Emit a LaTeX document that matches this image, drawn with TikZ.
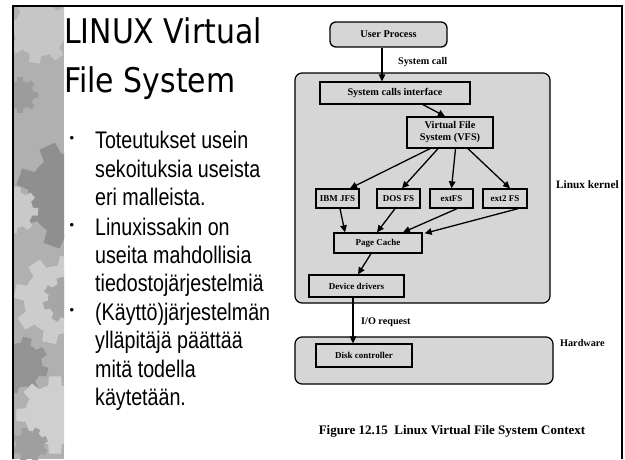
\documentclass[tikz,border=0pt]{standalone}
\usepackage{fontspec}
\setmainfont{Liberation Serif}
\newfontfamily\titlefont{DejaVu Sans}
\newfontfamily\bodyfont{Liberation Sans}
\usetikzlibrary{arrows.meta,calc}
\definecolor{boxgray}{RGB}{214,214,214}
\newcommand{\mygear}[5]{%
  \fill[#4] (#1,#2) circle (#3);
  \foreach \ang in {0,45,...,315}{
    \fill[#4] ($(#1,#2)+({\ang+#5-9}:{1.3*#3})$) -- ($(#1,#2)+({\ang+#5+9}:{1.3*#3})$)
      -- ($(#1,#2)+({\ang+#5+14}:{0.95*#3})$) -- ($(#1,#2)+({\ang+#5-14}:{0.95*#3})$) -- cycle;
  }
}
\begin{document}
\begin{tikzpicture}[x=1pt,y=-1pt,
  box/.style={draw=black, line width=1.3pt, fill=boxgray, inner sep=0pt, align=center,
    font=\bfseries\fontsize{10.3}{12}\selectfont},
  sbox/.style={box, font=\bfseries\fontsize{9}{11}\selectfont},
  area/.style={draw=black, line width=1.2pt, fill=boxgray, rounded corners=7pt, inner sep=0pt},
  arr/.style={line width=1.3pt, -{Triangle[length=7pt,width=6.5pt]}},
  lbl/.style={font=\bfseries\fontsize{10.2}{12}\selectfont, inner sep=0pt},
  ttl/.style={font=\titlefont\fontsize{34}{40}\selectfont, inner sep=0pt, anchor=base west, xscale=0.88},
  bodyline/.style={font=\bodyfont\fontsize{24}{28}\selectfont, inner sep=0pt, anchor=base west, xscale=0.82},
  bul/.style={font=\bodyfont\fontsize{13}{14}\selectfont, inner sep=0pt, anchor=center}]
\useasboundingbox (0,0) rectangle (625,459);
\fill[white] (0,0) rectangle (625,459);
% textured strip
\begin{scope}
  \clip (14,7) rectangle (64,459);
  \fill[gray!62] (14,7) rectangle (64,459);
  \mygear{40}{30}{26}{gray!45}{10}
  \mygear{20}{95}{14}{gray!78}{0}
  \mygear{70}{195}{42}{gray!88}{20}
  \mygear{15}{210}{18}{gray!42}{5}
  \mygear{58}{300}{34}{gray!40}{12}
  \mygear{66}{300}{18}{gray!70}{30}
  \mygear{20}{365}{22}{gray!85}{15}
  \mygear{55}{415}{30}{gray!38}{0}
  \mygear{30}{445}{14}{gray!75}{25}
\end{scope}
% frame
\draw[line width=2.5pt] (13,459) -- (13,6) -- (622,6) -- (622,459);
% title
\node[ttl] (t1) at (64,43) {LINUX Virtual};
\node[ttl] (t2) at (64,92) {File System};
% bullets
\node[bul] (b1) at (72,139.5) {•};
\node[bul] (b2) at (72,226.5) {•};
\node[bul] (b3) at (72,311.5) {•};
\node[bodyline] (l1) at (95,148) {Toteutukset usein};
\node[bodyline] (l2) at (95,177) {sekoituksia useista};
\node[bodyline] (l3) at (95,205) {eri malleista.};
\node[bodyline] (l4) at (95,235) {Linuxissakin on};
\node[bodyline] (l5) at (95,263) {useita mahdollisia};
\node[bodyline] (l6) at (95,291) {tiedostojärjestelmiä};
\node[bodyline] (l7) at (95,320) {(Käyttö)järjestelmän};
\node[bodyline] (l8) at (95,348) {ylläpitäjä päättää};
\node[bodyline] (l9) at (95,377) {mitä todella};
\node[bodyline] (l10) at (95,405) {käytetään.};
% areas
\node[area, minimum width=255pt, minimum height=230pt] (kernel) at (422.5,188) {};
\node[area, minimum width=258pt, minimum height=47pt] (hw) at (424,360.5) {};
% boxes
\node[box, rounded corners=6pt, minimum width=117pt, minimum height=25pt] (up) at (388.5,34.5) {User Process};
\node[box, minimum width=150pt, minimum height=22pt] (sci) at (395,93) {System calls interface};
\node[box, minimum width=86pt, minimum height=31pt] (vfs) at (450,132.5) {Virtual File\\System (VFS)};
\node[sbox, minimum width=43pt, minimum height=19pt] (jfs) at (337.5,198.5) {IBM JFS};
\node[sbox, minimum width=43pt, minimum height=19pt] (dos) at (398.5,198.5) {DOS FS};
\node[sbox, minimum width=43pt, minimum height=19pt] (ext) at (451.5,198.5) {extFS};
\node[sbox, minimum width=44pt, minimum height=19pt] (ext2) at (505,198.5) {ext2 FS};
\node[sbox, minimum width=88pt, minimum height=20pt] (pc) at (378,243) {Page Cache};
\node[sbox, minimum width=95pt, minimum height=22pt] (dd) at (356.5,286) {Device drivers};
\node[sbox, minimum width=96pt, minimum height=23pt] (dc) at (364,355.5) {Disk controller};
% labels
\node[lbl, anchor=west] (sc) at (398,62) {System call};
\node[lbl, anchor=west, font=\bfseries\fontsize{11.3}{13}\selectfont] (lk) at (556,185) {Linux kernel};
\node[lbl, anchor=west] (io) at (361,322) {I/O request};
\node[lbl, anchor=west] (hwl) at (560,343) {Hardware};
\node[font=\bfseries\fontsize{13}{15}\selectfont, inner sep=0pt] (cap) at (452,431) {Figure 12.15\ \ Linux Virtual File System Context};
% arrows
\draw[arr] ([xshift=-6.5pt]up.south) -- ([xshift=-6.5pt]up.south |- sci.north);
\draw[arr] ([xshift=28pt]sci.south) -- ([xshift=-5pt]vfs.north);
\draw[arr] ([xshift=-20pt]vfs.south) -- ([xshift=12.5pt]jfs.north);
\draw[arr] ([xshift=-12pt]vfs.south) -- ([xshift=3.5pt]dos.north);
\draw[arr] ([xshift=5.5pt]vfs.south) -- (ext.north);
\draw[arr] ([xshift=18pt]vfs.south) -- ([xshift=5pt]ext2.north);
\draw[arr] ([xshift=2.5pt]jfs.south) -- ([xshift=-33pt]pc.north);
\draw[arr] ([xshift=-3.5pt]dos.south) -- ([xshift=-1pt]pc.north);
\draw[arr] ([xshift=5.5pt]ext.south) -- ([xshift=25pt]pc.north);
\draw[arr] ([xshift=13pt]ext2.south) -- ([xshift=2pt,yshift=-1pt]pc.north east);
\draw[arr] ([xshift=-7pt]pc.south) -- ([xshift=1.5pt]dd.north);
\draw[arr] ([xshift=-3.5pt]dd.south) -- ([xshift=-3.5pt]dd.south |- dc.north);
\end{tikzpicture}
\end{document}
